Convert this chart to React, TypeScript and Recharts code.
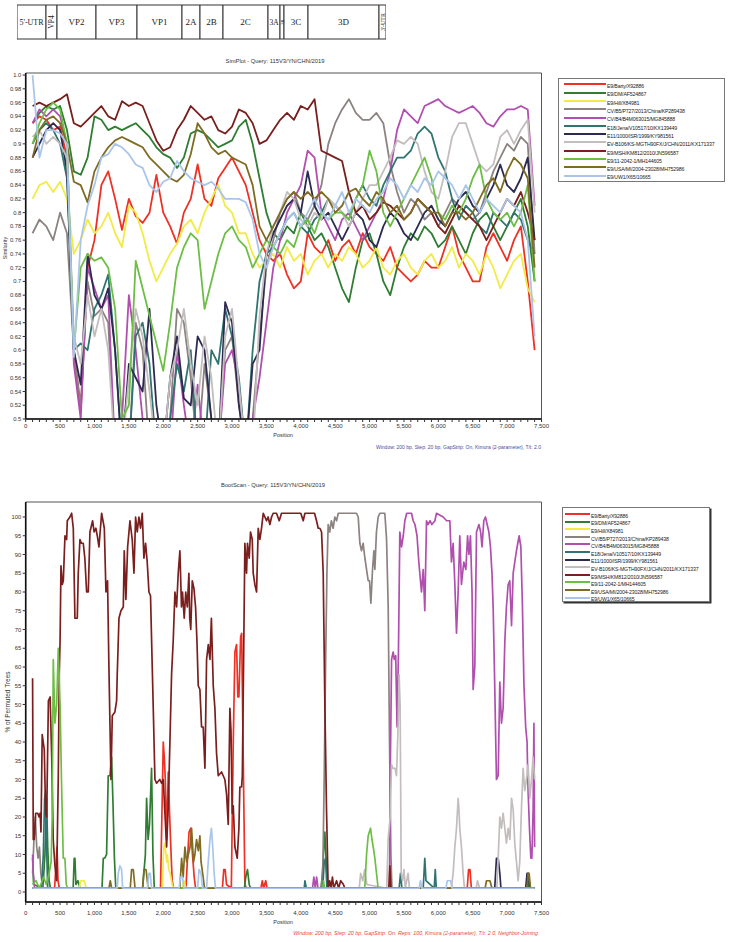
import React from "react";
import { LineChart, Line, XAxis, YAxis, ReferenceArea, BarChart, Bar, LabelList } from "recharts";

const FONT = "'Liberation Sans', Arial, sans-serif";

// genome map
const genomeSegments = ["5'-UTR", "VP4", "VP2", "VP3", "VP1", "2A", "2B", "2C", "3A", "3B", "3C", "3D", "3'-UTR"];
const genomeWidths = [29, 11, 39, 41, 45, 18, 23, 45, 12, 4, 24, 71, 7];

// strains (legend order)
const strainNames = [
  "E9/Barty/X92886",
  "E9/DM/AF524867",
  "E9/Hill/X84981",
  "CV/B5/P727/2013/China/KP289438",
  "CV/B4/B4M063015/MG845888",
  "E18/Jena/V10517/10/KX139449",
  "E11/1000/ISR/1999/KY981561",
  "EV-B106/KS-MGTH90FX/J/CHN/2011/KX171337",
  "E9/MSH/KM812/2010/JN596587",
  "E9/11-2042-1/MH144605",
  "E9/USA/MI/2004-23028/MH752986",
  "E9/UW1/X65/10665",
];
const strainColors = [
  "#ee3124", "#2f7d32", "#f2ea45", "#8c8280", "#b14fae", "#2f7470",
  "#2d2a52", "#c3bdbd", "#7a1f1d", "#6dbe45", "#7f6b21", "#a9c6ea",
];

// axes
const xMajorTicks = [0, 500, 1000, 1500, 2000, 2500, 3000, 3500, 4000, 4500, 5000, 5500, 6000, 6500, 7000, 7500];
const simYTicks = [0.5, 0.52, 0.54, 0.56, 0.58, 0.6, 0.62, 0.64, 0.66, 0.68, 0.7, 0.72, 0.74, 0.76, 0.78, 0.8, 0.82, 0.84, 0.86, 0.88, 0.9, 0.92, 0.94, 0.96, 0.98, 1.0];
const bootYTicks = [0, 5, 10, 15, 20, 25, 30, 35, 40, 45, 50, 55, 60, 65, 70, 75, 80, 85, 90, 95, 100];

// SimPlot: window centres
const simPositions = [
  100, 200, 300, 400, 500, 600, 700, 800, 900, 1000,
  1100, 1200, 1300, 1400, 1500, 1600, 1700, 1800, 1900, 2000,
  2100, 2200, 2300, 2400, 2500, 2600, 2700, 2800, 2900, 3000,
  3100, 3200, 3300, 3400, 3500, 3600, 3700, 3800, 3900, 4000,
  4100, 4200, 4300, 4400, 4500, 4600, 4700, 4800, 4900, 5000,
  5100, 5200, 5300, 5400, 5500, 5600, 5700, 5800, 5900, 6000,
  6100, 6200, 6300, 6400, 6500, 6600, 6700, 6800, 6900, 7000,
  7100, 7200, 7300, 7400,
];

const simBarty = [
  0.93, 0.94, 0.935, 0.92, 0.925, 0.88, 0.6, 0.51, 0.72, 0.76,
  0.84, 0.86, 0.82, 0.775, 0.82, 0.795, 0.785, 0.8, 0.855, 0.8,
  0.78, 0.755, 0.8, 0.82, 0.87, 0.82, 0.81, 0.85, 0.865, 0.88,
  0.86, 0.84, 0.8, 0.76, 0.74, 0.73, 0.74, 0.71, 0.69, 0.7,
  0.77, 0.75, 0.74, 0.76, 0.73, 0.75, 0.76, 0.74, 0.77, 0.75,
  0.74, 0.73, 0.75, 0.72, 0.71, 0.7, 0.71, 0.73, 0.72, 0.72,
  0.75, 0.78, 0.74, 0.72, 0.7, 0.7, 0.75, 0.77, 0.75, 0.73,
  0.76, 0.78, 0.7, 0.6,
];
const simDm = [
  0.93, 0.945, 0.955, 0.95, 0.955, 0.92, 0.86, 0.855, 0.88, 0.94,
  0.935, 0.92, 0.925, 0.92, 0.925, 0.93, 0.92, 0.91, 0.895, 0.885,
  0.88, 0.865, 0.88, 0.915, 0.92, 0.915, 0.905, 0.895, 0.9, 0.905,
  0.925, 0.935, 0.9, 0.85, 0.8, 0.77, 0.76, 0.78, 0.77, 0.8,
  0.78, 0.76, 0.77, 0.75, 0.72, 0.69, 0.67, 0.72, 0.76, 0.77,
  0.74, 0.7, 0.68, 0.72, 0.75, 0.77, 0.76, 0.78, 0.77, 0.75,
  0.76, 0.78, 0.76, 0.74, 0.77, 0.79, 0.8, 0.78, 0.76, 0.78,
  0.8, 0.82, 0.78, 0.7,
];
const simHill = [
  0.82, 0.84, 0.845, 0.83, 0.845, 0.82, 0.74, 0.76, 0.79, 0.77,
  0.78, 0.8, 0.77, 0.75, 0.81, 0.8, 0.77, 0.73, 0.7, 0.72,
  0.74, 0.755, 0.78, 0.79, 0.77, 0.8, 0.82, 0.84, 0.81, 0.8,
  0.77, 0.77, 0.74, 0.72, 0.73, 0.74, 0.72, 0.75, 0.73, 0.74,
  0.71, 0.73, 0.74, 0.72, 0.74, 0.73, 0.75, 0.74, 0.72, 0.73,
  0.75, 0.72, 0.71, 0.73, 0.74, 0.72, 0.71, 0.73, 0.74, 0.72,
  0.73, 0.75, 0.72, 0.74, 0.73, 0.71, 0.74, 0.72, 0.69, 0.71,
  0.73, 0.74, 0.69, 0.67,
];
const simB5 = [
  0.77, 0.79, 0.78, 0.76, 0.8, 0.77, 0.6, 0.52, 0.7, 0.65,
  0.66, 0.64, 0.45, 0.45, 0.45, 0.64, 0.6, 0.45, 0.45, 0.45,
  0.5, 0.66, 0.64, 0.56, 0.45, 0.58, 0.5, 0.45, 0.6, 0.62,
  0.52, 0.45, 0.5, 0.62, 0.72, 0.76, 0.8, 0.82, 0.83, 0.8,
  0.79, 0.81, 0.84, 0.9, 0.93, 0.95, 0.965, 0.945, 0.935, 0.935,
  0.945, 0.93, 0.87, 0.83, 0.8, 0.82, 0.81, 0.79, 0.8, 0.78,
  0.8, 0.82, 0.81, 0.8, 0.79, 0.8, 0.83, 0.86, 0.88, 0.9,
  0.89, 0.91, 0.9, 0.74,
];
const simB4 = [
  0.93, 0.95, 0.94, 0.95, 0.94, 0.9, 0.58, 0.5, 0.72, 0.69,
  0.66, 0.68, 0.45, 0.5, 0.68, 0.6, 0.5, 0.45, 0.5, 0.45,
  0.45, 0.6, 0.52, 0.45, 0.55, 0.45, 0.45, 0.45, 0.58, 0.6,
  0.55, 0.45, 0.5, 0.56, 0.64, 0.72, 0.76, 0.8, 0.82, 0.84,
  0.89, 0.88, 0.8, 0.78, 0.76, 0.79, 0.8, 0.78, 0.76, 0.78,
  0.8, 0.82, 0.86, 0.92, 0.95, 0.94, 0.93, 0.955, 0.96, 0.965,
  0.955, 0.95, 0.945, 0.95, 0.955, 0.945, 0.93, 0.925, 0.94, 0.95,
  0.95, 0.955, 0.95, 0.81,
];
const simE18 = [
  0.9, 0.92, 0.93, 0.92, 0.9, 0.85, 0.6, 0.61, 0.6, 0.66,
  0.68, 0.71, 0.6, 0.45, 0.45, 0.62, 0.64, 0.58, 0.45, 0.45,
  0.5, 0.58, 0.54, 0.6, 0.45, 0.45, 0.6, 0.58, 0.66, 0.62,
  0.56, 0.45, 0.6, 0.7, 0.74, 0.75, 0.77, 0.79, 0.8, 0.78,
  0.77, 0.79, 0.8, 0.82, 0.81, 0.8, 0.79, 0.82, 0.84, 0.82,
  0.81, 0.84, 0.86, 0.88, 0.88, 0.89, 0.915, 0.925, 0.915, 0.88,
  0.86, 0.82, 0.79, 0.81, 0.8, 0.78, 0.77, 0.8, 0.79, 0.78,
  0.8, 0.79, 0.76, 0.74,
];
const simE11 = [
  0.88, 0.9, 0.92, 0.93, 0.92, 0.86, 0.6, 0.55, 0.74, 0.68,
  0.66, 0.69, 0.6, 0.45, 0.58, 0.56, 0.54, 0.66, 0.52, 0.45,
  0.56, 0.62, 0.53, 0.52, 0.62, 0.6, 0.5, 0.45, 0.67, 0.64,
  0.52, 0.45, 0.58, 0.6, 0.74, 0.77, 0.79, 0.81, 0.82, 0.8,
  0.86, 0.81, 0.79, 0.8, 0.78, 0.76, 0.78, 0.8, 0.79, 0.76,
  0.75, 0.78, 0.8, 0.79, 0.77, 0.76, 0.78, 0.8, 0.81, 0.79,
  0.78, 0.8, 0.82, 0.83, 0.81, 0.8, 0.82, 0.84, 0.87, 0.84,
  0.83, 0.85, 0.88, 0.76,
];
const simEv106 = [
  0.91, 0.92, 0.9, 0.91, 0.9, 0.88, 0.62, 0.58, 0.68, 0.62,
  0.66, 0.6, 0.45, 0.45, 0.56, 0.66, 0.62, 0.54, 0.45, 0.45,
  0.56, 0.6, 0.66, 0.58, 0.52, 0.62, 0.56, 0.45, 0.62, 0.66,
  0.55, 0.45, 0.45, 0.65, 0.74, 0.78, 0.8, 0.83, 0.82, 0.79,
  0.78, 0.8, 0.79, 0.82, 0.81, 0.8, 0.78, 0.8, 0.82, 0.84,
  0.84, 0.86, 0.88, 0.905, 0.9, 0.91, 0.9, 0.86, 0.83, 0.82,
  0.86, 0.91, 0.93, 0.93, 0.9, 0.87, 0.86, 0.87, 0.91, 0.92,
  0.9, 0.92, 0.935, 0.8,
];
const simMsh = [
  0.955, 0.96, 0.955, 0.96, 0.965, 0.972, 0.93, 0.925, 0.935, 0.945,
  0.955, 0.94, 0.935, 0.962, 0.955, 0.96, 0.955, 0.93, 0.905, 0.89,
  0.895, 0.92, 0.935, 0.955, 0.945, 0.935, 0.94, 0.92, 0.915, 0.925,
  0.95, 0.945, 0.93, 0.9, 0.905, 0.92, 0.935, 0.945, 0.935, 0.955,
  0.95, 0.965, 0.89, 0.885, 0.88, 0.875, 0.83, 0.8, 0.81, 0.79,
  0.8, 0.815, 0.81, 0.8, 0.79, 0.8, 0.82, 0.81, 0.8, 0.78,
  0.77, 0.79, 0.81, 0.8, 0.79, 0.78, 0.76, 0.78, 0.8, 0.82,
  0.81, 0.83, 0.8, 0.76,
];
const simE9_11 = [
  0.9, 0.93, 0.95, 0.96, 0.95, 0.9, 0.6, 0.72, 0.74, 0.73,
  0.735, 0.72, 0.66, 0.5, 0.52, 0.73, 0.69, 0.65, 0.61, 0.57,
  0.64, 0.72, 0.75, 0.77, 0.76, 0.66, 0.7, 0.74, 0.77, 0.78,
  0.76, 0.75, 0.72, 0.74, 0.76, 0.75, 0.74, 0.76, 0.75, 0.78,
  0.79, 0.77, 0.8, 0.79, 0.8, 0.8, 0.79, 0.82, 0.84, 0.89,
  0.86, 0.8, 0.78, 0.8, 0.82, 0.84, 0.86, 0.88, 0.85, 0.8,
  0.79, 0.81, 0.8, 0.82, 0.85, 0.87, 0.82, 0.8, 0.79, 0.8,
  0.78, 0.8, 0.84, 0.7,
];
const simUsa = [
  0.88, 0.92, 0.935, 0.94, 0.93, 0.9, 0.845, 0.84, 0.815, 0.86,
  0.88, 0.895, 0.905, 0.91, 0.905, 0.9, 0.895, 0.88, 0.87, 0.86,
  0.85, 0.845, 0.855, 0.885, 0.93, 0.915, 0.895, 0.885, 0.89, 0.88,
  0.875, 0.87, 0.84, 0.78, 0.76, 0.78, 0.8, 0.82, 0.83, 0.82,
  0.83, 0.82, 0.83, 0.82, 0.8, 0.81, 0.83, 0.835, 0.82, 0.81,
  0.83, 0.82, 0.8, 0.81, 0.79, 0.8, 0.82, 0.81, 0.8, 0.8,
  0.78, 0.8, 0.8, 0.79, 0.8, 0.82, 0.84, 0.85, 0.83, 0.86,
  0.88, 0.87, 0.85, 0.72,
];
const simUw = [
  1.0, 0.88, 0.92, 0.92, 0.915, 0.9, 0.59, 0.76, 0.81, 0.84,
  0.88, 0.885, 0.9, 0.895, 0.885, 0.87, 0.865, 0.84, 0.83, 0.845,
  0.85, 0.875, 0.86, 0.85, 0.845, 0.84, 0.845, 0.835, 0.82, 0.82,
  0.82, 0.815, 0.79, 0.74, 0.72, 0.75, 0.77, 0.79, 0.8, 0.78,
  0.8, 0.82, 0.8, 0.79, 0.81, 0.83, 0.8, 0.82, 0.81, 0.8,
  0.82, 0.83, 0.85, 0.84, 0.82, 0.84, 0.83, 0.85, 0.84, 0.86,
  0.85, 0.84, 0.82, 0.84, 0.82, 0.8, 0.82, 0.81, 0.8, 0.82,
  0.81, 0.8, 0.76, 0.62,
];

// BootScan: [position, % of permuted trees]
const bsBarty: [number, number][] = [
  [100, 1], [420, 1], [440, 7], [455, 12], [470, 3], [490, 1], [1960, 1], [1980, 20], [2000, 40], [2015, 36],
  [2030, 30], [2049, 14], [2073, 32], [2090, 22], [2110, 12], [2130, 3], [2150, 1], [2330, 1], [2350, 8], [2375, 16],
  [2400, 17], [2425, 10], [2450, 4], [2470, 1], [2860, 1], [2880, 6], [2900, 6], [2920, 2], [2990, 1], [3018, 40],
  [3042, 64], [3066, 66], [3085, 52], [3100, 52], [3125, 68], [3140, 69], [3160, 40], [3187, 2], [3210, 1], [3420, 1],
  [3440, 3], [3460, 1], [3490, 3], [3510, 1], [6420, 1], [6440, 6], [6460, 6], [6480, 1], [7400, 1],
];
const bsDm: [number, number][] = [
  [90, 9], [100, 9], [115, 2], [250, 1], [280, 10], [304, 25], [320, 12], [340, 3], [360, 1], [690, 1],
  [705, 9], [716, 9], [730, 2], [760, 3], [790, 1], [1110, 1], [1128, 9], [1150, 9], [1176, 10], [1200, 31],
  [1225, 31], [1249, 36], [1270, 23], [1290, 9], [1310, 1], [1700, 1], [1740, 10], [1758, 25], [1780, 14], [1800, 18],
  [1830, 33], [1850, 10], [1870, 1], [3180, 1], [3200, 4], [3225, 6], [3250, 2], [3270, 1], [4300, 1], [4330, 10],
  [4350, 16], [4370, 8], [4390, 1], [7300, 1], [7320, 3], [7340, 1], [7400, 1],
];
const bsHill: [number, number][] = [
  [100, 1], [780, 1], [800, 3], [850, 3], [880, 1], [1990, 1], [2000, 9], [2010, 12], [2024, 13], [2040, 10],
  [2050, 8], [2060, 10], [2080, 6], [2100, 5], [2130, 2], [2150, 1], [2280, 1], [2300, 3], [2330, 1], [7400, 1],
];
const bsB5: [number, number][] = [
  [100, 5], [120, 14], [140, 20], [160, 12], [180, 9], [200, 12], [220, 5], [240, 2], [260, 1], [4290, 1],
  [4320, 5], [4340, 30], [4360, 60], [4380, 85], [4398, 98], [4420, 96], [4445, 99], [4470, 97], [4495, 100], [4520, 99],
  [4545, 101], [4810, 101], [4835, 100], [4859, 93], [4883, 91], [4907, 93], [4932, 89], [4956, 86], [4980, 83], [5000, 83],
  [5019, 77], [5043, 86], [5063, 91], [5077, 86], [5100, 96], [5125, 100], [5150, 101], [5222, 101], [5247, 94], [5271, 76],
  [5290, 40], [5310, 10], [5325, 1], [7400, 1],
];
const bsB4: [number, number][] = [
  [100, 10], [110, 5], [130, 1], [4170, 1], [4190, 4], [4210, 1], [4230, 4], [4250, 1], [5290, 1], [5300, 30],
  [5320, 62], [5343, 64], [5360, 62], [5380, 63], [5400, 44], [5420, 64], [5440, 96], [5465, 92], [5490, 95], [5513, 99],
  [5540, 101], [5610, 101], [5634, 99], [5660, 98], [5690, 95], [5716, 88], [5755, 80], [5780, 86], [5803, 75], [5828, 99],
  [5850, 98], [5880, 99], [5905, 98], [5950, 99], [5973, 101], [6070, 100], [6120, 99], [6167, 99], [6191, 88], [6215, 93],
  [6240, 82], [6264, 69], [6288, 80], [6312, 95], [6336, 82], [6370, 88], [6400, 86], [6425, 95], [6445, 90], [6467, 95],
  [6490, 80], [6506, 54], [6530, 60], [6555, 96], [6590, 98], [6615, 96], [6635, 92], [6661, 99], [6685, 100], [6710, 98],
  [6735, 96], [6758, 92], [6780, 85], [6797, 76], [6820, 55], [6845, 30], [6870, 31], [6894, 56], [6918, 45], [6942, 49],
  [6967, 67], [6990, 76], [7015, 82], [7039, 83], [7064, 71], [7088, 85], [7136, 91], [7175, 95], [7200, 92], [7223, 76],
  [7245, 55], [7270, 44], [7290, 40], [7305, 27], [7325, 17], [7345, 9], [7360, 9], [7378, 22], [7390, 45], [7400, 12],
];
const bsE18: [number, number][] = [
  [100, 1], [230, 1], [256, 10], [275, 25], [290, 27], [304, 12], [320, 1], [4050, 1], [4060, 3], [4080, 1],
  [4320, 1], [4340, 8], [4360, 9], [4380, 1], [5430, 1], [5450, 5], [5470, 1], [5780, 1], [5803, 9], [5820, 3],
  [5940, 1], [5955, 6], [5970, 1], [7400, 1],
];
const bsE11: [number, number][] = [
  [100, 1], [6820, 1], [6845, 9], [6870, 9], [6894, 5], [6910, 1], [7270, 1], [7290, 5], [7310, 5], [7330, 1], [7400, 1],
];
const bsEv106: [number, number][] = [
  [100, 1], [4850, 1], [4870, 5], [4900, 3], [4930, 6], [4960, 2], [5250, 1], [5270, 14], [5300, 20], [5319, 34],
  [5340, 33], [5370, 33], [5392, 31], [5416, 45], [5430, 58], [5445, 49], [5460, 5], [5480, 3], [5500, 6], [5520, 1],
  [5560, 5], [5580, 1], [6190, 1], [6215, 5], [6240, 12], [6264, 17], [6288, 25], [6300, 22], [6312, 17], [6336, 12],
  [6360, 5], [6380, 1], [6550, 1], [6570, 3], [6600, 1], [6850, 1], [6870, 9], [6894, 20], [6918, 17], [6942, 21],
  [6967, 17], [6990, 13], [7015, 17], [7040, 14], [7064, 25], [7088, 22], [7112, 13], [7136, 8], [7160, 3], [7184, 8],
  [7210, 23], [7233, 33], [7257, 27], [7281, 30], [7305, 34], [7330, 25], [7354, 30], [7378, 36], [7400, 30],
];
const bsMsh: [number, number][] = [
  [100, 57], [110, 14], [125, 14], [145, 21], [175, 21], [195, 20], [210, 21], [222, 16], [240, 42], [270, 38],
  [290, 21], [305, 20], [330, 51], [355, 52], [378, 36], [400, 14], [425, 7], [450, 3], [474, 31], [488, 58],
  [500, 67], [513, 87], [532, 82], [547, 83], [571, 95], [595, 94], [605, 99], [643, 100], [668, 101], [692, 97],
  [716, 73], [750, 73], [764, 85], [789, 94], [810, 93], [837, 93], [860, 89], [886, 80], [910, 80], [934, 96],
  [973, 99], [995, 96], [1020, 97], [1041, 95], [1065, 92], [1104, 101], [1143, 97], [1167, 80], [1190, 83], [1210, 60],
  [1240, 30], [1259, 47], [1297, 48], [1322, 51], [1331, 58], [1356, 73], [1385, 75], [1419, 76], [1433, 91], [1457, 78],
  [1482, 92], [1516, 99], [1549, 94], [1574, 85], [1598, 100], [1622, 96], [1646, 100], [1670, 97], [1695, 101], [1719, 89],
  [1743, 93], [1767, 88], [1792, 80], [1815, 79], [1840, 60], [1860, 45], [1879, 30], [1903, 29], [1950, 30], [1976, 29],
  [2000, 30], [2049, 12], [2073, 23], [2097, 40], [2121, 58], [2145, 67], [2170, 80], [2194, 76], [2218, 85], [2242, 91],
  [2265, 76], [2280, 80], [2305, 73], [2327, 80], [2350, 76], [2373, 85], [2385, 73], [2400, 70], [2422, 83], [2446, 81],
  [2470, 76], [2490, 67], [2509, 55], [2533, 54], [2557, 44], [2581, 44], [2606, 33], [2630, 62], [2655, 66], [2679, 62],
  [2700, 73], [2727, 55], [2751, 49], [2775, 37], [2800, 31], [2848, 32], [2872, 31], [2896, 30], [2921, 26], [2945, 18],
  [2969, 49], [2985, 43], [3003, 21], [3018, 23], [3042, 12], [3076, 9], [3100, 17], [3114, 28], [3139, 28], [3150, 31],
  [3187, 93], [3211, 85], [3225, 93], [3250, 89], [3269, 96], [3294, 94], [3308, 85], [3332, 82], [3357, 80], [3381, 97],
  [3405, 94], [3429, 97], [3454, 101], [3502, 99], [3525, 100], [3550, 98], [3575, 100], [3599, 101], [3647, 101], [3686, 99],
  [3720, 101], [4000, 101], [4035, 99], [4060, 101], [4200, 101], [4229, 99], [4253, 97], [4277, 97], [4302, 96], [4326, 85],
  [4350, 50], [4374, 22], [4398, 1], [4420, 3], [4440, 1], [4460, 4], [4480, 1], [4520, 3], [4550, 1], [4580, 3],
  [4620, 2], [4640, 1], [5280, 1], [5295, 7], [5310, 1], [7400, 1],
];
const bsE9_11: [number, number][] = [
  [100, 2], [150, 3], [200, 1], [260, 4], [300, 2], [340, 5], [370, 8], [385, 20], [401, 62], [425, 45],
  [450, 50], [474, 65], [500, 50], [520, 30], [546, 9], [570, 9], [590, 2], [610, 1], [4320, 1], [4330, 3],
  [4345, 1], [4930, 1], [4956, 10], [4980, 15], [5014, 17], [5035, 14], [5053, 12], [5077, 9], [5101, 5], [5125, 1],
  [7400, 1],
];
const bsUsa: [number, number][] = [
  [100, 1], [1210, 1], [1230, 3], [1250, 1], [1520, 1], [1540, 6], [1564, 6], [1590, 1], [1700, 1], [1720, 6],
  [1750, 6], [1780, 1], [2240, 1], [2267, 9], [2290, 4], [2315, 12], [2340, 8], [2365, 10], [2390, 12], [2412, 17],
  [2440, 8], [2460, 10], [2484, 14], [2510, 11], [2533, 15], [2550, 8], [2580, 4], [2600, 1], [6680, 1], [6700, 3],
  [6750, 3], [6780, 1], [7290, 1], [7305, 5], [7320, 5], [7340, 1], [7400, 1],
];
const bsUw: [number, number][] = [
  [100, 1], [1330, 1], [1346, 5], [1370, 7], [1394, 6], [1410, 1], [1770, 1], [1790, 5], [1810, 5], [1830, 1],
  [2230, 1], [2250, 4], [2280, 4], [2300, 1], [2500, 1], [2520, 6], [2550, 5], [2570, 1], [2630, 1], [2654, 8],
  [2680, 14], [2700, 17], [2720, 12], [2740, 5], [2760, 1], [5720, 1], [5740, 3], [5760, 1], [6110, 1], [6130, 3],
  [6180, 3], [6200, 1], [7400, 1],
];

const simSeries = [simBarty, simDm, simHill, simB5, simB4, simE18, simE11, simEv106, simMsh, simE9_11, simUsa, simUw];
const bootSeries = [bsBarty, bsDm, bsHill, bsB5, bsB4, bsE18, bsE11, bsEv106, bsMsh, bsE9_11, bsUsa, bsUw];

const simData = simPositions.map((pos, i) => {
  const row: Record<string, number> = { pos };
  simSeries.forEach((s, k) => (row[`s${k}`] = s[i]));
  return row;
});
const bootData = bootSeries.map((s) => s.map(([pos, v]) => ({ pos, v })));

// minor ticks every 100 bp between the labelled ones
const xTicks = xMajorTicks.flatMap((t) => (t < 7500 ? [t, t + 100, t + 200, t + 300, t + 400] : [t]));

const genomeTotal = genomeWidths.reduce((a, b) => a + b, 0);
const genomeRow: Record<string, number | string> = { name: "genome" };
genomeWidths.forEach((w, i) => (genomeRow[`g${i}`] = w));

const XTick = ({ x, y, payload }: any) => {
  const v = payload.value as number;
  if (v % 500 !== 0) return <g />;
  return (
    <text x={x} y={y} dy="0.71em" textAnchor="middle" fontSize={6} fill="#333" fontFamily={FONT}>
      {v.toLocaleString("en-US")}
    </text>
  );
};

const GenomeLabel = (i: number) => (props: any) => {
  const vb = props.viewBox ?? props;
  const { x, y, width, height } = vb;
  const cx = x + width / 2;
  const cy = y + height / 2;
  const text = genomeSegments[i];
  const w = genomeWidths[i];
  const narrow = w < 12;
  const size = w < 6 ? 4.5 : w < 10 ? 6 : narrow ? 7.5 : w < 14 ? 7.5 : i === 0 ? 8 : 9;
  return (
    <text
      x={cx}
      y={cy}
      textAnchor="middle"
      dominantBaseline="central"
      fontSize={size}
      fontFamily="'Liberation Serif', 'Times New Roman', serif"
      fill="#222"
      transform={narrow ? `rotate(-90 ${cx} ${cy})` : undefined}
    >
      {text}
    </text>
  );
};

const Txt = ({ x, y, anchor = "middle", rotate = false, style, children }: any) => {
  const tx = anchor === "middle" ? "-50%" : anchor === "end" ? "-100%" : "0";
  return (
    <div
      style={{
        position: "absolute",
        left: x,
        top: y,
        transform: `translate(${tx}, -50%)${rotate ? " rotate(-90deg)" : ""}`,
        transformOrigin: "center",
        whiteSpace: "nowrap",
        fontFamily: FONT,
        color: "#333",
        lineHeight: 1,
        ...style,
      }}
    >
      {children}
    </div>
  );
};

const StrainLegend = ({ left, top, width, height, firstY, rowGap, lineX, lineLen, shadow }: any) => (
  <div
    style={{
      position: "absolute",
      left,
      top,
      width,
      height,
      border: "1px solid #777",
      boxShadow: shadow ? "1.5px 1.5px 0 #333" : undefined,
      background: "#fff",
    }}
  >
    {strainNames.map((n, i) => (
      <div key={n}>
        <div
          style={{
            position: "absolute",
            left: lineX,
            top: firstY + i * rowGap - 1,
            width: lineLen,
            height: 2,
            background: strainColors[i],
          }}
        />
        <div
          style={{
            position: "absolute",
            left: lineX + lineLen + 1,
            top: firstY + i * rowGap - 1.2,
            fontSize: 5.2,
            lineHeight: "6px",
            letterSpacing: -0.15,
            fontFamily: FONT,
            color: "#222",
            whiteSpace: "nowrap",
          }}
        >
          {n}
        </div>
      </div>
    ))}
  </div>
);

export default function App() {
  const axisLine = { stroke: "#111", strokeWidth: 1.6 };
  return (
    <div style={{ position: "absolute", left: 0, top: 0, width: 729, height: 942, background: "#fff", overflow: "hidden" }}>
      {/* genome map */}
      <div style={{ position: "absolute", left: 16, top: 4 }}>
        <BarChart
          width={371}
          height={36}
          layout="vertical"
          data={[genomeRow]}
          margin={{ top: 1, right: 1, bottom: 1, left: 1 }}
          barCategoryGap={0}
        >
          <XAxis type="number" hide domain={[0, genomeTotal]} allowDataOverflow />
          <YAxis type="category" dataKey="name" hide />
          {genomeSegments.map((s, i) => (
            <Bar key={s} dataKey={`g${i}`} stackId="g" fill="#fff" stroke="#333" strokeWidth={1} isAnimationActive={false}>
              <LabelList dataKey={`g${i}`} content={GenomeLabel(i)} />
            </Bar>
          ))}
        </BarChart>
      </div>

      {/* SimPlot */}
      <Txt x={275} y={62} style={{ fontSize: 5.8 }}>SimPlot - Query: 115V3/YN/CHN/2019</Txt>
      <div style={{ position: "absolute", left: 0, top: 50 }}>
        <LineChart width={729} height={400} data={simData} margin={{ top: 23, right: 187.5, bottom: 0, left: 0 }}>
          <ReferenceArea x1={0} x2={7500} y1={0.5} y2={1.003} fill="none" stroke="#555" strokeWidth={1} ifOverflow="visible" />
          <XAxis
            dataKey="pos"
            type="number"
            domain={[0, 7500]}
            allowDataOverflow
            ticks={xTicks}
            interval={0}
            tick={<XTick />}
            tickSize={3}
            tickMargin={2}
            height={31}
            axisLine={axisLine}
            tickLine={{ stroke: "#333" }}
          />
          <YAxis
            type="number"
            domain={[0.5, 1.003]}
            allowDataOverflow
            ticks={simYTicks}
            interval={0}
            width={25.7}
            tickSize={3}
            tickMargin={1.5}
            tickFormatter={(v: number) => (v === 1 ? "1.0" : String(+v.toFixed(2)))}
            tick={{ fontSize: 5.8, fill: "#333", fontFamily: FONT }}
            axisLine={axisLine}
            tickLine={{ stroke: "#333" }}
          />
          {strainNames.map((n, k) => (
            <Line
              key={n}
              dataKey={`s${k}`}
              name={n}
              stroke={strainColors[k]}
              strokeWidth={1.8}
              strokeLinejoin="round"
              dot={false}
              activeDot={false}
              isAnimationActive={false}
            />
          ))}
        </LineChart>
      </div>
      <Txt x={6} y={248} rotate style={{ fontSize: 5.5 }}>Similarity</Txt>
      <Txt x={283} y={436} style={{ fontSize: 5.5 }}>Position</Txt>
      <Txt x={541} y={447} anchor="end" style={{ fontSize: 5, color: "#4a4a9e" }}>
        Window: 200 bp, Step: 20 bp, GapStrip: On, Kimura (2-parameter), T/t: 2.0
      </Txt>
      <StrainLegend left={558} top={78} width={165} height={102} firstY={5.3} rowGap={8.3} lineX={5} lineLen={42} />

      {/* BootScan */}
      <Txt x={273} y={486} style={{ fontSize: 5.8 }}>BootScan - Query: 115V3/YN/CHN/2019</Txt>
      <div style={{ position: "absolute", left: 0, top: 470 }}>
        <LineChart width={729} height={470} margin={{ top: 32, right: 187.5, bottom: 0, left: 0 }}>
          <ReferenceArea x1={0} x2={7500} y1={-2.67} y2={104} fill="none" stroke="#555" strokeWidth={1} ifOverflow="visible" />
          <XAxis
            dataKey="pos"
            type="number"
            domain={[0, 7500]}
            allowDataOverflow
            ticks={xTicks}
            interval={0}
            tick={<XTick />}
            tickSize={3}
            tickMargin={6}
            height={38}
            axisLine={axisLine}
            tickLine={{ stroke: "#333" }}
          />
          <YAxis
            type="number"
            domain={[-2.67, 104]}
            allowDataOverflow
            ticks={bootYTicks}
            interval={0}
            width={25.7}
            tickSize={3}
            tickMargin={1.5}
            tick={{ fontSize: 5.8, fill: "#333", fontFamily: FONT }}
            axisLine={axisLine}
            tickLine={{ stroke: "#333" }}
          />
          {strainNames.map((n, k) => (
            <Line
              key={n}
              data={bootData[k]}
              dataKey="v"
              name={n}
              stroke={strainColors[k]}
              strokeWidth={1.7}
              strokeLinejoin="round"
              dot={false}
              activeDot={false}
              isAnimationActive={false}
            />
          ))}
        </LineChart>
      </div>
      <Txt x={8} y={702} rotate style={{ fontSize: 6.5 }}>% of Permuted Trees</Txt>
      <Txt x={283} y={923} style={{ fontSize: 5.5 }}>Position</Txt>
      <Txt x={538} y={934} anchor="end" style={{ fontSize: 5.3, color: "#e84a33", fontStyle: "italic" }}>
        Window: 200 bp, Step: 20 bp, GapStrip: On, Reps: 100, Kimura (2-parameter), T/t: 2.0, Neighbor-Joining
      </Txt>
      <StrainLegend left={562} top={507} width={146} height={93} firstY={6} rowGap={7.6} lineX={2} lineLen={25} shadow />
    </div>
  );
}
